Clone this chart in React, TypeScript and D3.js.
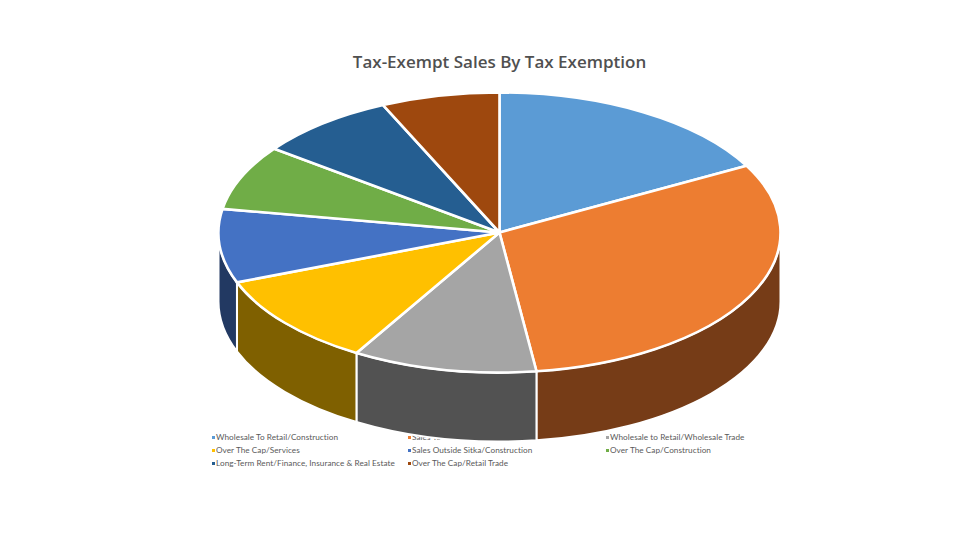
import React from "react";
import * as d3 from "d3";

const categories = [
  "Wholesale To Retail/Construction",
  "Sales To Wholesale/Construction",
  "Wholesale to Retail/Wholesale Trade",
  "Over The Cap/Services",
  "Sales Outside Sitka/Construction",
  "Over The Cap/Construction",
  "Long-Term Rent/Finance, Insurance & Real Estate",
  "Over The Cap/Retail Trade",
];
const values = [17.1, 30.8, 10.6, 10.7, 8.5, 7.5, 8.0, 6.8];
const topColors = ["#5B9BD5", "#ED7D31", "#A5A5A5", "#FFC000", "#4472C4", "#70AD47", "#255E91", "#9E480E"];
const sideColors = ["#35597A", "#763C17", "#525252", "#7F6000", "#223962", "#385723", "#122F49", "#4F2407"];

const cx = 499.5, cy = 232.5, rx = 281, ry = 140, depth = 69;

const legendX = [212, 408, 606];
const legendY = [437, 450, 463];

export default function App() {
  const pie = d3.pie<number>().sort(null).value((d) => d);
  const arcs = pie(values);
  const arc = d3.arc<d3.PieArcDatum<number>>().innerRadius(0).outerRadius(rx);
  const yScale = ry / rx;

  const px = (a: number) => cx + rx * Math.sin(a);
  const py = (a: number) => cy - ry * Math.cos(a);

  // front wall: only the part of each slice with angle between 90deg and 270deg
  const walls = arcs
    .map((d, i) => {
      const a0 = Math.max(d.startAngle, Math.PI / 2);
      const a1 = Math.min(d.endAngle, (3 * Math.PI) / 2);
      if (a1 <= a0) return null;
      const p =
        `M${px(a0)},${py(a0)}` +
        `A${rx},${ry} 0 0 1 ${px(a1)},${py(a1)}` +
        `L${px(a1)},${py(a1) + depth}` +
        `A${rx},${ry} 0 0 0 ${px(a0)},${py(a0) + depth}Z`;
      return { p, i };
    })
    .filter(Boolean) as { p: string; i: number }[];

  return (
    <svg
      width={960}
      height={540}
      style={{ position: "absolute", left: 0, top: 0, background: "#fff", fontFamily: "Lato, 'Open Sans', sans-serif" }}
    >
      <text x={499.5} y={68} textAnchor="middle" fontSize={17} fontWeight={600} fill="#505050" fontFamily="'Open Sans', sans-serif">
        Tax-Exempt Sales By Tax Exemption
      </text>
      <g>
        {categories.map((c, i) => {
          const col = i % 3;
          const row = Math.floor(i / 3);
          return (
            <g key={c}>
              <rect x={legendX[col]} y={legendY[row] - 1} width={3} height={3} fill={topColors[i]} />
              <text x={legendX[col] + 4} y={legendY[row] + 3} fontSize={8.2} fill="#595959" letterSpacing={0.05}>
                {c}
              </text>
            </g>
          );
        })}
      </g>
      {walls.map(({ p, i }) => (
        <path key={i} d={p} fill={sideColors[i]} stroke="#fff" strokeWidth={2} strokeLinejoin="round" />
      ))}
      <g transform={`translate(${cx},${cy}) scale(1,${yScale})`}>
        {arcs.map((d, i) => (
          <path
            key={i}
            d={arc(d) as string}
            fill={topColors[i]}
            stroke="#fff"
            strokeWidth={2.6}
            vectorEffect="non-scaling-stroke"
            strokeLinejoin="round"
          />
        ))}
      </g>
    </svg>
  );
}
